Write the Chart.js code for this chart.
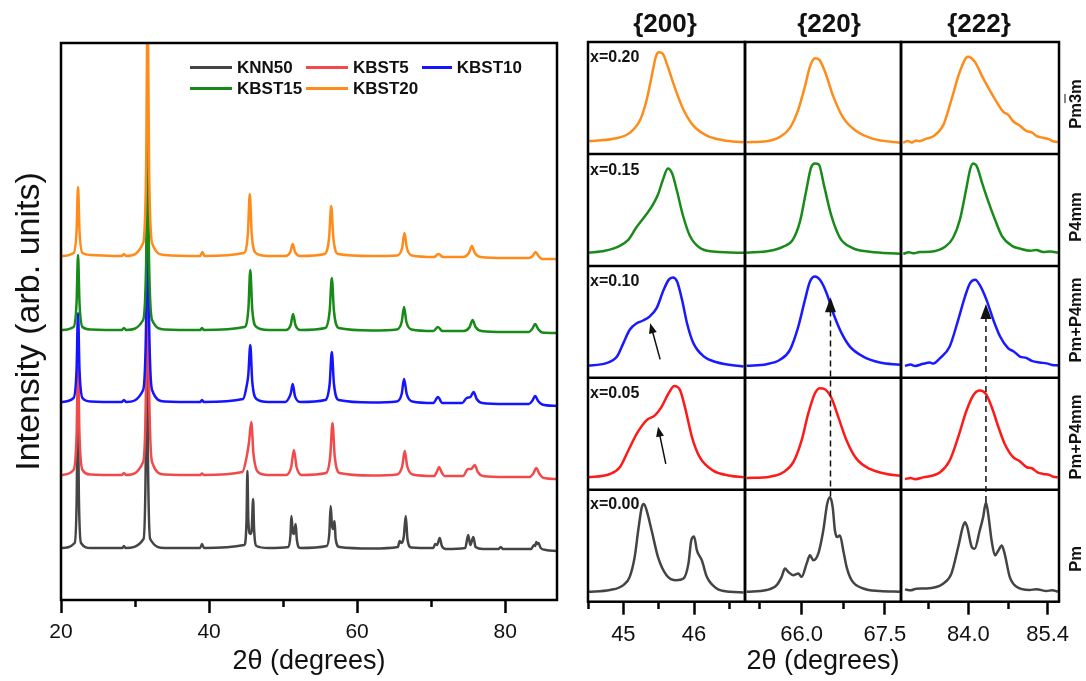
<!DOCTYPE html>
<html>
<head>
<meta charset="utf-8">
<script src="https://cdn.jsdelivr.net/npm/chart.js@4.4.1/dist/chart.umd.min.js"></script>
<style>
  body { margin: 0; background: #fff; width: 1086px; height: 681px; position: relative; overflow: hidden;
         font-family: "Liberation Sans", Arial, sans-serif; color: #111; }
  canvas { position: absolute; top: 0; }
  .hdr { position: absolute; top: 8px; font-weight: bold; font-size: 26px; transform: translateX(-50%); }
  .xlab { position: absolute; left: 590px; font-weight: bold; font-size: 16px; line-height: 16px; }
  .phase { position: absolute; left: 1075px; font-weight: bold; font-size: 16.5px; white-space: nowrap;
           transform: translate(-50%, -50%) rotate(-90deg); }
  .legend { position: absolute; left: 190px; top: 57px; display: grid; grid-template-columns: 116px 116px 100px; }
  .legend div { display: flex; align-items: center; height: 21px; font-weight: bold; font-size: 17px; }
  .legend span { display: inline-block; width: 42px; height: 3px; margin-right: 5px; }
</style>
</head>
<body>
<canvas id="xrd" width="575" height="681" style="left:0"></canvas>
<canvas id="col200" width="217" height="681" style="left:558px"></canvas>
<canvas id="col220" width="216" height="681" style="left:715px"></canvas>
<canvas id="col222" width="218" height="681" style="left:871px"></canvas>
<div class="legend" id="legend"></div>
<div class="hdr" style="left:665px">{200}</div>
<div class="hdr" style="left:829px">{220}</div>
<div class="hdr" style="left:979px">{222}</div>
<div id="labels"></div>
<script>
// ---------- full patterns (2θ, intensity above own baseline) ----------
const sampleNames = ['KNN50', 'KBST5', 'KBST10', 'KBST15', 'KBST20'];
const sampleColors = ['#454545', '#f24a4a', '#1414ff', '#178a17', '#ff8c1a'];
const cellColors = ['#444444', '#ff1a1a', '#1a1aff', '#1a8a1a', '#ff8c1a'];
const stackOffset = [51, 124, 197, 269, 343];

const knn50 = [[20,1],[21.85,6],[22.12,50],[22.27,150],[22.42,50],[22.7,6],[24,1],[28.3,1],[28.5,3],[28.7,1],
  [31.15,10],[31.45,90],[31.6,260],[31.75,90],[32.05,10],[34,1],[38.8,1],[39.05,5],[39.3,1],
  [44.75,4],[45.06,28],[45.18,78],[45.3,30],[45.55,15],[45.75,18],[45.95,50],[46.08,20],[46.4,3],[48,1],
  [50.7,2],[51.0,14],[51.12,33],[51.3,18],[51.45,15],[51.7,25],[51.85,10],[52.3,1],
  [55.9,3],[56.25,16],[56.43,43],[56.6,24],[56.75,20],[56.95,28],[57.1,10],[57.6,2],[62,0.5],
  [65.5,2],[65.75,8],[66.0,6],[66.3,12],[66.57,33],[66.8,10],[67.3,1.5],
  [70.3,1],[70.54,5],[70.8,4],[71.16,11],[71.45,3],[72,0],[74.6,1],[75.0,14],[75.3,4],[75.7,12],[76.0,2],[77,0],
  [79.1,0],[79.4,2],[79.7,0],[83.5,0],[83.9,4],[84.05,3],[84.2,7],[84.35,5],[84.5,6],[84.8,1],[85.5,-1],[87,-2]];
const kbst5 = [[20,1],[21.7,6],[22.1,40],[22.3,110],[22.5,40],[22.9,6],[24,1.5],[28.2,1],[28.5,3],[28.8,1],
  [31.1,14],[31.5,90],[31.7,250],[31.9,90],[32.3,14],[34,1.5],[38.8,1],[39.05,2.5],[39.3,1],
  [44.5,4],[45.1,20],[45.4,34],[45.7,54],[46.0,22],[46.6,4],[48,1],[50.4,1],[51.1,9],[51.46,26],[51.82,9],[52.5,1],
  [55.8,3],[56.37,20],[56.67,53],[56.97,20],[57.6,3],[62,0.5],[65.4,1.5],[66.1,10],[66.43,25],[66.76,10],[67.5,1.5],
  [70.4,0],[70.75,4],[71.07,9],[71.4,4],[71.8,0],[74.3,0],[75.0,7],[75.4,7],[75.9,11],[76.3,4],[77,0],
  [80,-1],[83.3,-1],[83.8,2.5],[84.2,8],[84.6,2.5],[85.2,-2],[87,-3]];
const kbst10 = [[20,1],[21.7,5],[22.1,33],[22.3,90],[22.5,33],[22.9,5],[24,1.5],[28.2,1],[28.5,3],[28.8,1],
  [31.1,13],[31.5,82],[31.7,230],[31.9,82],[32.3,13],[34,1.5],[38.8,1],[39.05,3],[39.3,1],
  [44.6,4],[45.05,16],[45.3,28],[45.57,58],[45.83,22],[46.4,4],[48,1],[50.3,1],[50.85,6],[51.05,10],[51.3,19],[51.6,7],[52.3,1],
  [55.7,3],[56.29,19],[56.58,51],[56.87,19],[57.5,3],[62,0.5],[65.35,1.5],[66.02,9],[66.34,24],[66.7,9],[67.45,1.5],
  [70.3,0],[70.92,6],[71.5,0],[74.2,0],[74.8,5],[75.3,6],[75.74,11],[76.15,4],[76.9,0],
  [80,-1],[83.2,-1],[83.65,2],[84.05,7],[84.45,2],[85,-1.5],[87,-3]];
const kbst15 = [[20,1],[21.7,4],[22.1,28],[22.3,76],[22.5,28],[22.9,4],[24,1.5],[28.2,1],[28.5,3],[28.8,1],
  [31.1,11],[31.5,68],[31.7,190],[31.9,68],[32.3,11],[34,1.5],[38.8,1],[39.05,3],[39.3,1],
  [44.8,4],[45.31,22],[45.57,61],[45.83,22],[46.4,4],[48,1],[50.35,1],[51.03,6],[51.35,17],[51.67,6],[52.35,1],
  [55.7,3],[56.29,20],[56.58,53],[56.87,20],[57.5,3],[62,0.5],[65.35,1.5],[66.02,9],[66.34,24],[66.66,9],[67.35,1.5],
  [70.3,0],[70.92,4],[71.5,0],[74.4,0],[75.2,4],[75.6,11],[76.0,4],[76.8,0],
  [80,-1],[83.2,-1],[83.65,2],[84.05,7],[84.45,2],[85,-1.5],[87,-2]];
const kbst20 = [[20,1],[21.7,4],[22.1,26],[22.3,70],[22.5,26],[22.9,4],[24,2],[28.2,1],[28.5,3],[28.8,1],
  [31.1,14],[31.5,90],[31.7,260],[31.9,90],[32.3,14],[34,2],[38.8,1],[39.1,5],[39.4,1],
  [44.7,4],[45.24,23],[45.5,63],[45.76,23],[46.3,4],[48,1],[50.3,1],[50.98,5],[51.3,13],[51.62,5],[52.3,1],
  [55.6,3],[56.21,19],[56.5,51],[56.79,19],[57.4,3],[62,1],[65.4,1.5],[66.08,9],[66.4,24],[66.72,9],[67.4,1.5],
  [70.4,0],[71,3],[71.6,0],[74.3,0],[75.1,4],[75.5,11],[75.9,4],[76.7,0],
  [80,-1],[83.2,-1],[83.7,1],[84.1,5],[84.5,1],[85,-2],[87,-2]];
const patterns = [knn50, kbst5, kbst10, kbst15, kbst20];

const xrdTicks = [20, 30, 40, 50, 60, 70, 80];
const xrdTickLabels = ['20', '', '40', '', '60', '', '80'];

// ---------- zoomed peaks (2θ, % of cell height) ----------
const compositions = ['x=0.00', 'x=0.05', 'x=0.10', 'x=0.15', 'x=0.20'];
const phases = ['Pm', 'Pm+P4mm', 'Pm+P4mm', 'P4mm', 'Pm<span style="text-decoration:overline">3</span>m'];

const h200_x000 = [[44.5,8.9],[44.81,10.4],[45.0,14.8],[45.09,22.2],[45.16,39.9],[45.21,63.6],[45.26,84.3],[45.29,87.3],[45.33,81.4],[45.4,63.6],[45.49,39.9],[45.61,23.7],[45.75,19.2],[45.85,20.7],[45.92,34],[45.96,54.7],[46.0,58.3],[46.04,45.8],[46.11,36.9],[46.18,22.2],[46.32,11.8],[46.51,8.9],[46.7,8.3]];
const h200_x005 = [[44.48,11.1],[44.81,14.1],[44.95,20.1],[45.07,35.1],[45.19,50.1],[45.33,62.2],[45.45,66.7],[45.54,74.1],[45.64,86.2],[45.72,92.8],[45.8,89.2],[45.87,74.1],[45.97,47.1],[46.08,29.1],[46.27,17.1],[46.51,12.6],[46.7,11.1]];
const h200_x010 = [[44.48,10.9],[44.76,13.1],[44.91,19],[45.0,31],[45.09,42.9],[45.19,48.8],[45.28,51.2],[45.37,54.7],[45.47,62.2],[45.57,78.6],[45.64,87.5],[45.7,89.6],[45.76,86],[45.83,69.6],[45.9,48.8],[45.99,31],[46.14,19],[46.32,13.9],[46.7,10.1]];
const h200_x015 = [[44.5,11.7],[44.74,13.5],[44.92,17],[45.07,23.3],[45.18,34],[45.31,44.8],[45.41,53.8],[45.49,63.7],[45.56,77.1],[45.63,87],[45.69,82.5],[45.76,66.4],[45.84,45.7],[45.94,26.9],[46.08,16.1],[46.3,12.6],[46.72,11.7]];
const h200_x020 = [[44.48,11.4],[44.86,13.5],[45.09,18.8],[45.24,30.7],[45.33,48.4],[45.4,69.2],[45.46,87],[45.5,90.9],[45.56,89.3],[45.62,79.6],[45.73,58.8],[45.85,39.5],[45.99,25.3],[46.18,16.4],[46.41,12.3],[46.7,10.5]];

const h220_x000 = [[65.01,8.9],[65.37,10.4],[65.55,14.8],[65.64,22.2],[65.7,29.6],[65.76,26.6],[65.85,23.7],[65.94,25.1],[66.0,22.2],[66.09,34],[66.15,41.4],[66.21,37],[66.3,42.9],[66.39,63.6],[66.46,87.3],[66.51,93.2],[66.56,84.3],[66.6,63.6],[66.64,57.7],[66.69,59.2],[66.75,45.8],[66.81,31.1],[66.9,19.2],[67.11,11.8],[67.41,9.5],[67.77,8.9]];
const h220_x005 = [[65.01,10.5],[65.43,11.7],[65.67,15.6],[65.85,24.6],[66.0,44.1],[66.12,68.2],[66.24,86.2],[66.33,90.7],[66.42,89.8],[66.54,81.7],[66.66,65.1],[66.81,44.1],[66.99,27.6],[67.23,18.6],[67.53,14.1],[67.77,12.6]];
const h220_x010 = [[65.01,10.7],[65.37,12.2],[65.61,16.1],[65.79,25],[65.94,45.8],[66.06,69.6],[66.15,86],[66.24,90.5],[66.33,87.5],[66.45,75.6],[66.57,57.7],[66.72,39.9],[66.87,27.9],[67.11,19],[67.41,13.7],[67.77,11.6]];
const h220_x015 = [[65.0,11.7],[65.43,13.5],[65.66,17],[65.84,23.3],[65.97,39.5],[66.08,66.4],[66.17,87.9],[66.24,91.5],[66.31,90.6],[66.4,72.6],[66.53,45.7],[66.69,25.1],[66.91,16.1],[67.23,12.6],[67.77,10.8]];
const h220_x020 = [[65.01,10.5],[65.37,11.4],[65.61,15.3],[65.79,23.3],[65.94,39.6],[66.06,60.3],[66.15,78],[66.24,85.5],[66.32,84],[66.42,73.6],[66.57,51.4],[66.75,32.2],[66.99,20.3],[67.29,13.5],[67.77,10]];

const h222_x000 = [[82.88,11],[82.98,10.2],[83.08,11.6],[83.26,11.8],[83.56,16.3],[83.7,25.1],[83.82,48.8],[83.9,66.6],[83.94,71],[83.98,66.6],[84.06,48.8],[84.11,47.3],[84.2,63.6],[84.26,75.4],[84.31,88.7],[84.35,78.4],[84.41,54.7],[84.47,41.4],[84.53,45.8],[84.59,50.3],[84.64,42.9],[84.73,22.2],[84.85,13.3],[85.08,10.4],[85.2,11.2],[85.38,9.5],[85.48,10.3],[85.58,8.9]];
const h222_x005 = [[82.88,9.6],[82.98,10.4],[83.06,9.5],[83.2,11.1],[83.5,15.6],[83.67,26.1],[83.82,47.1],[83.97,71.2],[84.09,84.7],[84.2,88.6],[84.31,85.6],[84.41,74.1],[84.53,56.1],[84.64,41.1],[84.79,29.1],[84.9,25.8],[85.03,20.1],[85.12,19.2],[85.22,15.6],[85.32,14.1],[85.42,13.4],[85.5,11.6],[85.58,11.1]];
const h222_x010 = [[82.88,10.7],[82.98,11.8],[83.06,10.6],[83.2,12.5],[83.32,13.6],[83.38,12.8],[83.5,17.6],[83.67,28],[83.82,51.8],[83.94,72.6],[84.03,84.6],[84.12,87.5],[84.2,83],[84.32,69.6],[84.44,51.8],[84.56,36.9],[84.7,26.5],[84.8,23.6],[84.91,19],[85.02,17.8],[85.12,15.2],[85.26,13.7],[85.38,12.9],[85.48,11.5],[85.59,11]];
const h222_x015 = [[82.85,10.8],[82.95,12.1],[83.04,11.2],[83.14,12.4],[83.32,12.6],[83.59,17],[83.73,25.1],[83.85,41.3],[83.96,68.2],[84.03,86.1],[84.08,91.5],[84.15,88.8],[84.24,74.4],[84.34,59.2],[84.47,41.3],[84.59,26.9],[84.77,17.9],[84.92,15.3],[85.09,13.5],[85.2,14.2],[85.32,12.4],[85.45,12.8],[85.58,11.7]];
const h222_x020 = [[82.85,10],[82.93,11.6],[83.0,10.2],[83.08,12],[83.14,11.4],[83.24,13.3],[83.38,15.8],[83.56,26.2],[83.7,48.4],[83.85,73.6],[83.99,86.9],[84.11,82.5],[84.26,67.7],[84.44,51.4],[84.61,38],[84.71,34.6],[84.79,29.2],[84.9,25.6],[85.03,20.3],[85.12,19.3],[85.2,16.2],[85.32,14.4],[85.42,13.2],[85.48,11.6],[85.58,10.5]];

const ticks200 = [44.5, 45, 45.5, 46, 46.5], labels200 = ['', '45', '', '46', ''];
const ticks220 = [65.25, 66.0, 66.75, 67.5], labels220 = ['', '66.0', '', '67.5'];
const ticks222 = [83.3, 84.0, 84.7, 85.4], labels222 = ['', '84.0', '', '85.4'];

// arrows at the {200} shoulder: [tail 2θ, tail row pos, head 2θ, head row pos]
const shoulderArrows = [[45.52, 2.165, 45.38, 2.487], [45.60, 1.231, 45.49, 1.563]];
// dashed guides: [2θ, start row pos, arrow tip row pos]
const guide220 = [66.52, 0.94, 2.72];
const guide222 = [84.31, 0.89, 2.66];

Chart.defaults.font.family = '"Liberation Sans", Arial, sans-serif';
Chart.defaults.color = '#111';

const framePlugin = {
  id: 'frame',
  afterDraw(chart, args, opts) {
    const { ctx, chartArea: a } = chart;
    ctx.save();
    ctx.strokeStyle = '#000';
    ctx.lineWidth = 2.5;
    ctx.strokeRect(a.left, a.top, a.right - a.left, a.bottom - a.top);
    (opts.rows || []).forEach(v => {
      const y = chart.scales.y.getPixelForValue(v);
      ctx.beginPath(); ctx.moveTo(a.left, y); ctx.lineTo(a.right, y); ctx.stroke();
    });
    ctx.restore();
  }
};

const markPlugin = {
  id: 'marks',
  afterDraw(chart, args, opts) {
    const { ctx, scales: { x, y } } = chart;
    ctx.save();
    ctx.fillStyle = ctx.strokeStyle = '#111';
    (opts.arrows || []).forEach(([x0, y0, x1, y1]) => {
      const ax = x.getPixelForValue(x0), ay = y.getPixelForValue(y0);
      const bx = x.getPixelForValue(x1), by = y.getPixelForValue(y1);
      const ang = Math.atan2(by - ay, bx - ax), c = Math.cos(ang), s = Math.sin(ang);
      ctx.lineWidth = 1.5;
      ctx.beginPath(); ctx.moveTo(ax, ay); ctx.lineTo(bx - 7 * c, by - 7 * s); ctx.stroke();
      ctx.beginPath();
      ctx.moveTo(bx, by);
      ctx.lineTo(bx - 10 * c + 4 * s, by - 10 * s - 4 * c);
      ctx.lineTo(bx - 10 * c - 4 * s, by - 10 * s + 4 * c);
      ctx.closePath(); ctx.fill();
    });
    if (opts.guide) {
      const [g, from, tip] = opts.guide;
      const px = x.getPixelForValue(g), pb = y.getPixelForValue(from), pt = y.getPixelForValue(tip);
      ctx.lineWidth = 1.5;
      ctx.setLineDash([6, 4]);
      ctx.beginPath(); ctx.moveTo(px, pb); ctx.lineTo(px, pt + 12); ctx.stroke();
      ctx.setLineDash([]);
      ctx.beginPath(); ctx.moveTo(px, pt); ctx.lineTo(px - 5.5, pt + 15); ctx.lineTo(px + 5.5, pt + 15);
      ctx.closePath(); ctx.fill();
    }
    ctx.restore();
  }
};

const lineStyle = { pointRadius: 0, borderWidth: 2.5, fill: false, cubicInterpolationMode: 'monotone' };

function tickAxis(ticks, labels, size, extra) {
  return Object.assign({
    type: 'linear',
    afterBuildTicks: s => { s.ticks = ticks.map(v => ({ value: v })); },
    ticks: { autoSkip: false, maxRotation: 0, padding: 7, font: { size }, color: '#111', callback: (v, i) => labels[i] },
    grid: { display: true, drawOnChartArea: false, drawTicks: true, tickLength: 13, tickWidth: 2.5, tickColor: '#000',
            tickBorderDash: c => (labels[c.index] ? [] : [7, 40]) },
    border: { display: false }
  }, extra);
}

// ---------- left: stacked full patterns ----------
new Chart(document.getElementById('xrd'), {
  type: 'line',
  data: {
    // reversed so that KBST20 is painted last
    datasets: patterns.map((p, i) => Object.assign({
      label: sampleNames[i],
      data: p.map(([t, v]) => ({ x: t, y: v + stackOffset[i] })),
      borderColor: sampleColors[i]
    }, lineStyle)).reverse()
  },
  options: {
    responsive: false, animation: false,
    layout: { padding: { top: 43, right: 18, left: 0, bottom: 0 } },
    plugins: { legend: { display: false }, tooltip: { enabled: false } },
    scales: {
      x: tickAxis(xrdTicks, xrdTickLabels, 21, {
        min: 20, max: 87,
        afterFit: s => { s.height = 81; },
        title: { display: true, text: '2θ (degrees)', font: { size: 27 }, color: '#111', padding: { top: 0, bottom: 3 } }
      }),
      y: {
        min: 0, max: 557,
        afterFit: s => { s.width = 61; },
        ticks: { display: false }, grid: { display: false }, border: { display: false },
        title: { display: true, text: 'Intensity (arb. units)', font: { size: 34 }, color: '#111', padding: { top: 9, bottom: 0 } }
      }
    }
  },
  plugins: [framePlugin]
});

// ---------- right: three zoom columns, five rows each ----------
const columns = [
  { id: 'col200', rows: [h200_x000, h200_x005, h200_x010, h200_x015, h200_x020], min: 44.5, max: 46.72,
    ticks: ticks200, labels: labels200, marks: { arrows: shoulderArrows } },
  { id: 'col220', rows: [h220_x000, h220_x005, h220_x010, h220_x015, h220_x020], min: 64.98, max: 67.79,
    ticks: ticks220, labels: labels220, marks: { guide: guide220 }, title: '2θ (degrees)' },
  { id: 'col222', rows: [h222_x000, h222_x005, h222_x010, h222_x015, h222_x020], min: 82.81, max: 85.6,
    ticks: ticks222, labels: labels222, marks: { guide: guide222 } }
];

columns.forEach(col => {
  new Chart(document.getElementById(col.id), {
    type: 'line',
    data: {
      datasets: col.rows.map((r, i) => Object.assign({
        label: compositions[i],
        data: r.map(([t, v]) => ({ x: t, y: i + v / 100 })),
        borderColor: cellColors[i]
      }, lineStyle))
    },
    options: {
      responsive: false, animation: false,
      layout: { padding: { top: 42, right: 30, left: 30, bottom: 0 } },
      plugins: { legend: { display: false }, tooltip: { enabled: false }, frame: { rows: [1, 2, 3, 4] }, marks: col.marks },
      scales: {
        x: tickAxis(col.ticks, col.labels, 22, {
          min: col.min, max: col.max,
          afterFit: s => { s.height = 79.3; },
          title: { display: !!col.title, text: col.title || '', font: { size: 27 }, color: '#111', padding: { top: 0, bottom: 3 } }
        }),
        y: { display: false, min: 0, max: 5 }
      }
    },
    plugins: [framePlugin, markPlugin]
  });
});

// ---------- html legend and cell labels ----------
const legend = document.getElementById('legend');
sampleNames.forEach((n, i) => {
  const d = document.createElement('div');
  d.innerHTML = '<span style="background:' + sampleColors[i] + '"></span>' + n;
  legend.appendChild(d);
});

const labels = document.getElementById('labels');
const rowTop = [489, 378, 266, 154.5, 42];
const phaseY = [559, 437, 320, 217, 104];
compositions.forEach((c, i) => {
  const a = document.createElement('div');
  a.className = 'xlab';
  a.style.top = (rowTop[i] + 7) + 'px';
  a.textContent = c;
  labels.appendChild(a);
  const p = document.createElement('div');
  p.className = 'phase';
  p.style.top = phaseY[i] + 'px';
  p.innerHTML = phases[i];
  labels.appendChild(p);
});
</script>
</body>
</html>
